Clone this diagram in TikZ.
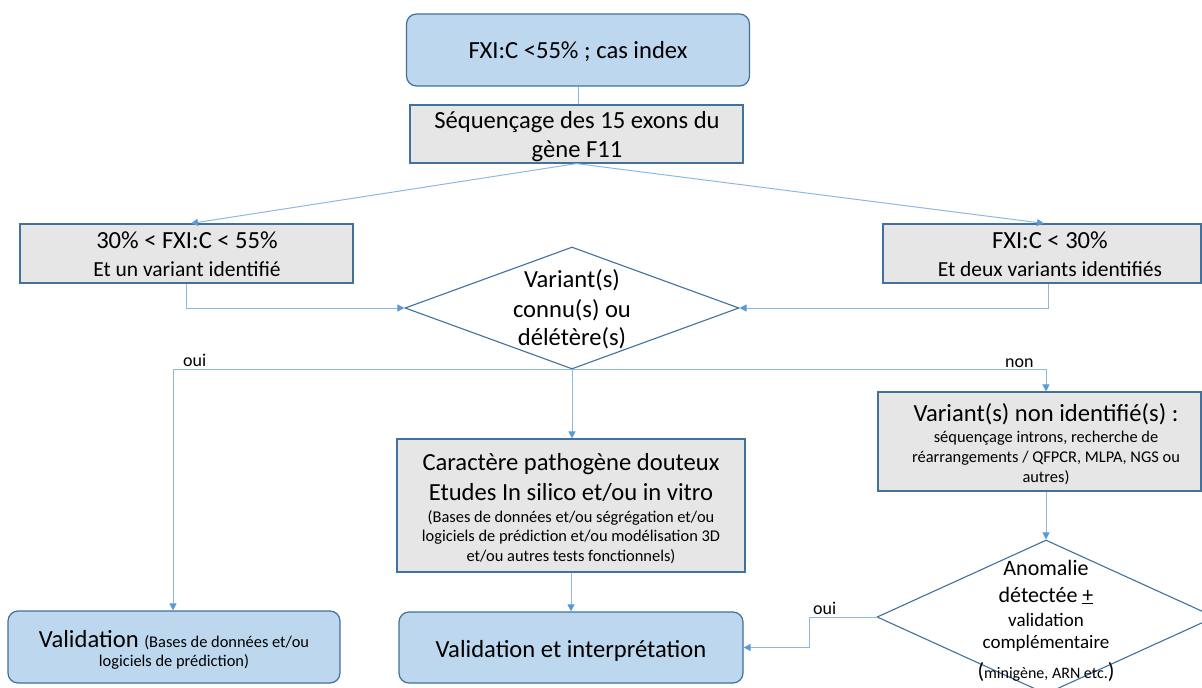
\documentclass[tikz,border=0pt]{standalone}
\usepackage{fontspec}
\setmainfont{Carlito}
\usetikzlibrary{shapes.geometric,arrows.meta}
\definecolor{boxblue}{HTML}{BDD7EE}
\definecolor{edgeblue}{HTML}{41719C}
\definecolor{boxgray}{HTML}{E7E6E6}
\definecolor{linkblue}{HTML}{5B9BD5}
\definecolor{linklight}{HTML}{8DB8E2}

\begin{document}
\begin{tikzpicture}[x=1pt,y=-1pt,
  bluebox/.style={draw=edgeblue, fill=boxblue, line width=1.2pt, rounded corners=10pt, inner sep=0pt},
  graybox/.style={draw=edgeblue, fill=boxgray, line width=1.2pt, inner sep=0pt},
  decision/.style={diamond, draw=edgeblue, line width=1.1pt, fill=white, inner sep=0pt},
  txt/.style={inner sep=0pt, anchor=base},
  big/.style={txt, font=\fontsize{24.6}{29}\selectfont},
  mid/.style={txt, font=\fontsize{21.5}{25}\selectfont},
  small/.style={txt, font=\fontsize{16.4}{19}\selectfont},
  lbl/.style={inner sep=0pt, anchor=base west, font=\fontsize{18}{22}\selectfont},
  link/.style={draw=linklight, line width=1pt},
  arr/.style={link, -{Triangle[length=7pt,width=7pt,color=linkblue]}},
]
\useasboundingbox (0,0) rectangle (1202,688);

% boxes
\node[bluebox, minimum width=343pt, minimum height=72pt] (top) at (578,50) {};
\node[graybox, minimum width=333pt, minimum height=58pt] (seq) at (576.5,134) {};
\node[graybox, minimum width=333pt, minimum height=59pt] (lbox) at (186.5,253.5) {};
\node[graybox, minimum width=318pt, minimum height=59pt] (rbox) at (1042,253.5) {};
\node[decision, minimum width=334pt, minimum height=122pt] (dia1) at (572,308) {};
\node[bluebox, minimum width=332pt, minimum height=72pt] (vbox) at (174,647) {};
\node[graybox, minimum width=348pt, minimum height=133pt] (cbox) at (571,505.5) {};
\node[bluebox, minimum width=344pt, minimum height=71pt] (ibox) at (571,647.5) {};
\node[graybox, minimum width=323pt, minimum height=99pt] (nbox) at (1039.5,441.5) {};
\node[decision, minimum width=338pt, minimum height=154pt] (dia2) at (1046,617) {};

% texts
\node[big] (t1) at (578,58) {FXI:C <55\% ; cas index};
\node[big] (s1) at (577,128) {Séquençage des 15 exons du};
\node[big] (s2) at (577,157) {gène F11};
\node[big] (l1) at (187,248) {30\% < FXI:C < 55\%};
\node[mid] (l2) at (187,276) {Et un variant identifié};
\node[big] (r1) at (1050,248) {FXI:C < 30\%};
\node[mid] (r2) at (1050,276) {Et deux variants identifiés};
\node[big] (d1) at (572,287) {Variant(s)};
\node[big] (d2) at (572,317) {connu(s) ou};
\node[big] (d3) at (572,345) {délétère(s)};
\node[big] (c1) at (571,470) {Caractère pathogène douteux};
\node[big] (c2) at (571,500) {Etudes In silico et/ou in vitro};
\node[small] (c3) at (571,522) {(Bases de données et/ou ségrégation et/ou};
\node[small] (c4) at (571,541) {logiciels de prédiction et/ou modélisation 3D};
\node[small] (c5) at (571,561) {et/ou autres tests fonctionnels)};
\node[big] (v1) at (174,647) {Validation {\fontsize{16.4}{19}\selectfont(Bases de données et/ou}};
\node[small] (v2) at (174,666) {logiciels de prédiction)};
\node[big] (i1) at (571,657) {Validation et interprétation};
\node[big] (n1) at (1046,421) {Variant(s) non identifié(s) :};
\node[small] (n2) at (1046,442) {séquençage introns, recherche de};
\node[small] (n3) at (1046,462) {réarrangements / QFPCR, MLPA, NGS ou};
\node[small] (n4) at (1046,482) {autres)};
\node[txt, font=\fontsize{22}{26}\selectfont] (a1) at (1046,575) {Anomalie};
\node[txt, font=\fontsize{22}{26}\selectfont] (a2) at (1046,602) {détectée \underline{+}};
\node[txt, font=\fontsize{19}{23}\selectfont] (a3) at (1046,626) {validation};
\node[txt, font=\fontsize{19}{23}\selectfont] (a4) at (1046,648) {complémentaire};
\node[txt, font=\fontsize{16}{19}\selectfont] (a5) at (1046,678) {{\fontsize{22}{26}\selectfont(}minigène, ARN etc.{\fontsize{22}{26}\selectfont)}};

% connectors
\draw[link] (top.south) -- (top.south |- seq.north);
\draw[arr] (seq.south) -- ([xshift=4.5pt]lbox.north);
\draw[arr] (seq.south) -- ([xshift=2pt]rbox.north);
\draw[arr] (lbox.south) |- (dia1.west);
\draw[arr] ([xshift=6.5pt]rbox.south) |- (dia1.east);
\draw[arr] (dia1.south) -| ([xshift=-1pt]vbox.north);
\draw[arr] (dia1.south) -| ([xshift=6.5pt]nbox.north);
\draw[arr] (dia1.south) -- (dia1.south |- cbox.north);
\draw[arr] (cbox.south) -- (ibox.north);
\draw[arr] ([xshift=6.5pt]nbox.south) -- (dia2.north);
\coordinate (bend) at (809,617);
\draw[arr] (dia2.west) -- (bend) |- (ibox.east);

% branch labels
\node[lbl] (oui1) at (183,366) {oui};
\node[lbl] (non1) at (1005,367) {non};
\node[lbl] (oui2) at (813,614) {oui};
\end{tikzpicture}
\end{document}
